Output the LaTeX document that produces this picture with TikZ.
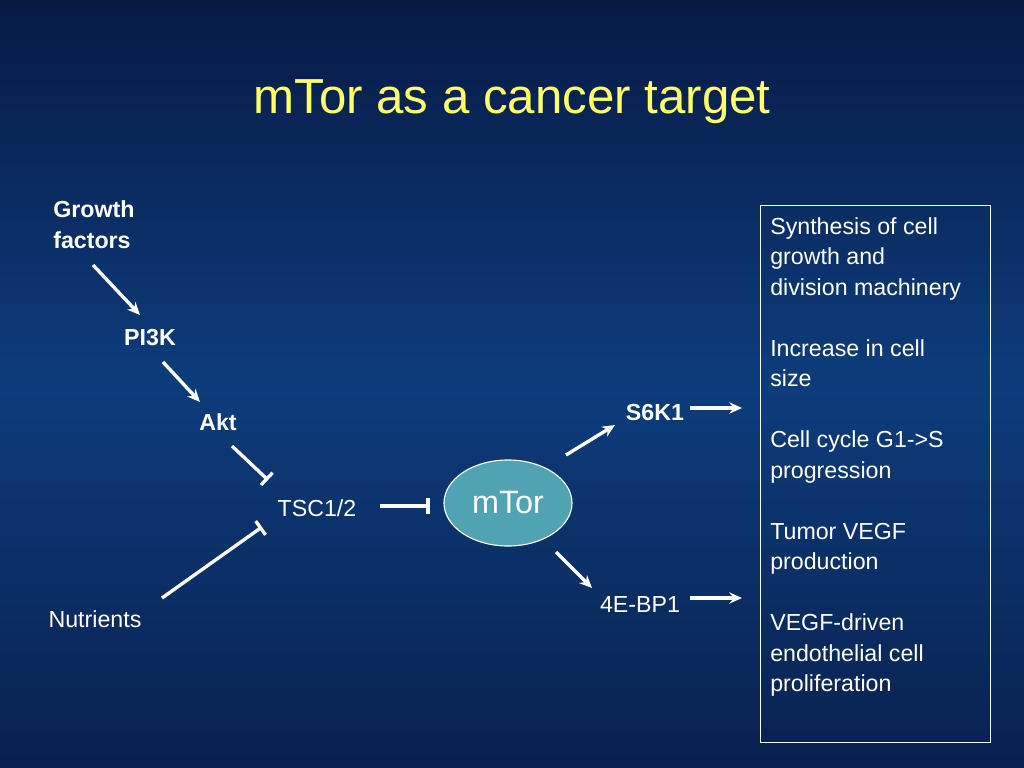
\documentclass[tikz,border=0pt]{standalone}
\usepackage{fontspec}
\setmainfont{Liberation Sans}
\usetikzlibrary{calc,arrows.meta,shapes.geometric}
\definecolor{titleyellow}{HTML}{FFFF66}
\definecolor{bgtop}{HTML}{071A45}
\definecolor{bgmid}{HTML}{0D3C7C}
\definecolor{bgbot}{HTML}{08214F}
\definecolor{mtorfill}{HTML}{4FA3B3}
\tikzset{
  lbl/.style={text=white,font=\fontsize{16.5}{20}\selectfont,inner sep=0pt},
  blbl/.style={lbl,font=\fontsize{16.5}{20}\selectfont\bfseries},
  act/.style={white,line width=2.4pt,-{Stealth[length=9pt,width=8pt]}},
  inh/.style={white,line width=2.4pt,-{Bar[width=12pt]}},
}
\begin{document}
\begin{tikzpicture}[x=0.025cm,y=-0.025cm]
  \shade[top color=bgtop,bottom color=bgbot,middle color=bgmid] (0,0) rectangle (1024,768);
  \useasboundingbox (0,0) rectangle (1024,768);

  \node (title) [text=titleyellow,font=\fontsize{35}{40}\selectfont] at(512,102) {mTor as a cancer target};

  \node (gf) [blbl,anchor=west,align=left] at(53,225) {Growth\\[2pt]factors};
  \node (pi3k) [blbl] at(150,338) {PI3K};
  \node (akt) [blbl] at(218,422) {Akt};
  \node (tsc) [lbl] at(317,508) {TSC1/2};
  \node (nutr) [lbl] at(95,619) {Nutrients};
  \node (mtor) [ellipse,draw=white,thick,fill=mtorfill,minimum width=128*0.025cm,minimum height=86*0.025cm,text=white,font=\fontsize{23}{27}\selectfont] at(508,503) {mTor};
  \node (s6k1) [blbl] at(655,413) {S6K1};
  \node (ebp) [lbl] at(640,605) {4E-BP1};

  \node (effects) [draw=white,thick,anchor=north west,minimum width=230*0.025cm,minimum height=537*0.025cm,inner sep=0pt] at(760,205) {};
  \node (efftext) [lbl,anchor=north west,align=left,font=\fontsize{16.5}{21.7}\selectfont] at(770,217)
    {Synthesis of cell\\growth and\\division machinery\\[21.7pt]Increase in cell\\size\\[21.7pt]Cell cycle G1->S\\progression\\[21.7pt]Tumor VEGF\\production\\[21.7pt]VEGF-driven\\endothelial cell\\proliferation};

  %% connectors
  \coordinate (gfend) at(93,265);
  \coordinate (pi3kin) at(140,315);
  \coordinate (pi3kout) at(163,362);
  \coordinate (aktin) at(200,402);
  \coordinate (aktout) at(232,446);
  \coordinate (tscin) at(268,480);
  \coordinate (nutrout) at(162,598);
  \coordinate (tscnu) at(262,527);
  \coordinate (tscout) at(380,506);
  \coordinate (mtorin) at(430,506);
  \coordinate (mtorup) at(566,455);
  \coordinate (s6kw) at(615,425);
  \coordinate (mtordn) at(556,552);
  \coordinate (ebpw) at(592,588);
  \coordinate (s6ke) at(690,408);
  \coordinate (s6kin) at(742,408);
  \coordinate (ebpe) at(690,598);
  \coordinate (ebpin) at(742,598);
  \draw[act] (gfend) -- (pi3kin);
  \draw[act] (pi3kout) -- (aktin);
  \draw[inh] (aktout) -- (tscin);
  \draw[inh] (nutrout) -- (tscnu);
  \draw[inh,line width=3pt] (tscout) -- (mtorin);
  \draw[act] (mtorup) -- (s6kw);
  \draw[act] (mtordn) -- (ebpw);
  \draw[act,line width=3pt] (s6ke) -- (s6kin);
  \draw[act,line width=3pt] (ebpe) -- (ebpin);
\end{tikzpicture}
\end{document}
